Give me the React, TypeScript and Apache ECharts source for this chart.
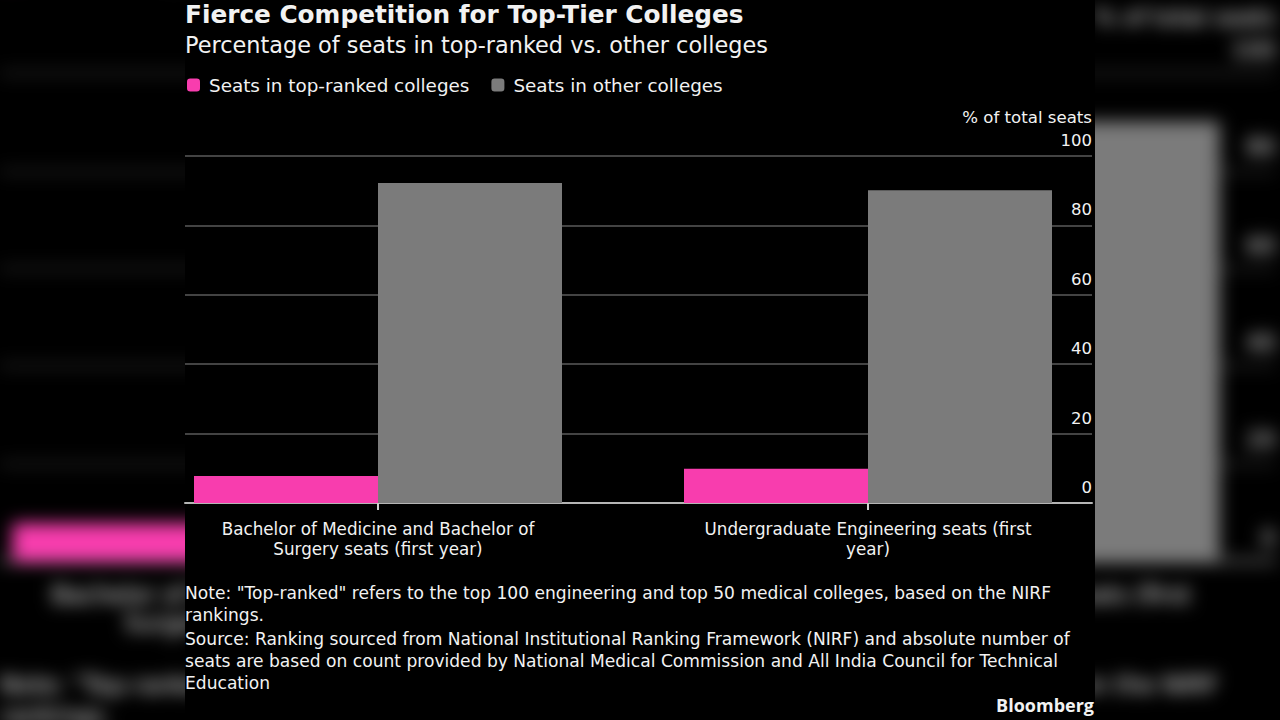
import React, { useEffect, useRef } from "react";
import * as echarts from "echarts";

// Chart content
const TITLE = "Fierce Competition for Top-Tier Colleges";
const SUBTITLE = "Percentage of seats in top-ranked vs. other colleges";
const CATEGORIES = [
  "Bachelor of Medicine and Bachelor of\nSurgery seats (first year)",
  "Undergraduate Engineering seats (first\nyear)",
];
const SERIES_NAMES = ["Seats in top-ranked colleges", "Seats in other colleges"];
const TOP_RANKED = [7.8, 9.9];
const OTHER = [92.2, 90.1];
const Y_TICKS = [0, 20, 40, 60, 80, 100];
const Y_UNIT = "% of total seats";
const NOTE =
  'Note: "Top-ranked" refers to the top 100 engineering and top 50 medical colleges, based on the NIRF\nrankings.';
const SOURCE =
  "Source: Ranking sourced from National Institutional Ranking Framework (NIRF) and absolute number of\nseats are based on count provided by National Medical Commission and All India Council for Technical\nEducation";
const BRAND = "Bloomberg";

const PINK = "#f83dae";
const GREY = "#7b7b7b";
const TEXT = "#f2f2f2";
const FONT = "'DejaVu Sans', Verdana, sans-serif";
const BRAND_FONT = "'Open Sans', sans-serif";

// The chart card occupies a 910px column centred in the 1280px page.
const PAGE_W = 1280;
const PAGE_H = 720;
const CARD_L = 185;
const CARD_R = 185;

function buildOption(): echarts.EChartsOption {
  const yMin = Y_TICKS[0];
  const yMax = Y_TICKS[Y_TICKS.length - 1];
  const yStep = Y_TICKS[1] - Y_TICKS[0];
  return {
    animation: false,
    backgroundColor: "transparent",
    textStyle: { fontFamily: FONT },
    title: {
      text: TITLE,
      subtext: SUBTITLE,
      left: CARD_L,
      top: 2,
      padding: 0,
      itemGap: 7,
      textStyle: { color: TEXT, fontSize: 24.75, fontWeight: "bold", fontFamily: FONT },
      subtextStyle: { color: TEXT, fontSize: 22.4, fontFamily: FONT },
    },
    legend: {
      left: CARD_L + 2,
      top: 76,
      padding: 0,
      icon: "roundRect",
      itemWidth: 13,
      itemHeight: 13,
      itemGap: 22,
      textStyle: { color: TEXT, fontSize: 18.35, fontFamily: FONT, padding: [0, 0, 0, 4] },
      data: SERIES_NAMES,
    },
    grid: [
      // frame: gridlines, baseline and value labels
      { left: CARD_L, right: CARD_R + 3, top: 156, bottom: 217 },
      // bars and category labels
      { left: 133, right: PAGE_W - 1113, top: 156, bottom: 217 },
    ],
    xAxis: [
      {
        type: "category",
        gridIndex: 0,
        data: CATEGORIES,
        axisLine: { show: true, lineStyle: { color: "#b5b5b5", width: 2 } },
        axisTick: { show: false },
        axisLabel: { show: false },
      },
      {
        type: "category",
        gridIndex: 1,
        data: CATEGORIES,
        axisLine: { show: false },
        axisTick: {
          show: true,
          alignWithLabel: true,
          length: 7,
          lineStyle: { color: "#d0d0d0", width: 2 },
        },
        axisLabel: {
          color: TEXT,
          fontSize: 16.75,
          lineHeight: 20,
          margin: 16,
          fontFamily: FONT,
        },
      },
    ],
    yAxis: [
      {
        type: "value",
        gridIndex: 0,
        position: "right",
        min: yMin,
        max: yMax,
        interval: yStep,
        axisLine: { show: false },
        axisTick: { show: false },
        splitLine: { show: true, lineStyle: { color: "#5a5a5a", width: 1.5 } },
        axisLabel: {
          inside: true,
          margin: 0,
          align: "right",
          verticalAlign: "bottom",
          padding: [0, 0, 7, 0],
          color: TEXT,
          fontSize: 16.5,
          fontFamily: FONT,
        },
      },
      {
        type: "value",
        gridIndex: 1,
        min: yMin,
        max: yMax,
        interval: yStep,
        show: false,
        splitLine: { show: false },
      },
    ],
    series: [
      {
        name: SERIES_NAMES[0],
        type: "bar",
        xAxisIndex: 1,
        yAxisIndex: 1,
        data: TOP_RANKED,
        barWidth: 184,
        barGap: "0%",
        itemStyle: { color: PINK },
      },
      {
        name: SERIES_NAMES[1],
        type: "bar",
        xAxisIndex: 1,
        yAxisIndex: 1,
        data: OTHER,
        barWidth: 184,
        barGap: "0%",
        itemStyle: { color: GREY },
      },
    ],
    graphic: [
      {
        type: "text",
        right: CARD_R + 3,
        top: 109,
        style: { text: Y_UNIT, fill: TEXT, font: `16.6px ${FONT}`, textAlign: "right" },
      },
      {
        type: "text",
        left: CARD_L,
        top: 582,
        style: { text: NOTE, fill: TEXT, font: `17.1px ${FONT}`, lineHeight: 22 },
      },
      {
        type: "text",
        left: CARD_L,
        top: 628,
        style: { text: SOURCE, fill: TEXT, font: `17.1px ${FONT}`, lineHeight: 22 },
      },
      {
        type: "text",
        right: CARD_R + 1,
        top: 696,
        style: { text: BRAND, fill: TEXT, font: `bold 18px ${BRAND_FONT}`, textAlign: "right" },
      },
    ],
  };
}

function ChartView({
  style,
  renderer,
}: {
  style: React.CSSProperties;
  renderer: "svg" | "canvas";
}) {
  const ref = useRef<HTMLDivElement>(null);
  useEffect(() => {
    if (!ref.current) return;
    const chart = echarts.init(ref.current, undefined, { renderer });
    chart.setOption(buildOption());
    return () => chart.dispose();
  }, [renderer]);
  return <div ref={ref} style={style} />;
}

export default function App() {
  const layer: React.CSSProperties = {
    position: "absolute",
    left: 0,
    top: 0,
    width: PAGE_W,
    height: PAGE_H,
  };
  return (
    <div
      style={{
        position: "fixed",
        left: 0,
        top: 0,
        width: PAGE_W,
        height: PAGE_H,
        background: "#000",
        overflow: "hidden",
      }}
    >
      {/* enlarged, blurred copy of the card filling the side margins */}
      <ChartView
        renderer="canvas"
        style={{
          ...layer,
          transform: `scale(${PAGE_W / (PAGE_W - CARD_L - CARD_R)})`,
          transformOrigin: `${PAGE_W / 2}px ${PAGE_H / 2}px`,
          filter: "blur(6px)",
        }}
      />
      {/* the card */}
      <div
        style={{
          position: "absolute",
          left: CARD_L,
          top: 0,
          width: PAGE_W - CARD_L - CARD_R,
          height: PAGE_H,
          background: "#000",
        }}
      />
      <ChartView renderer="svg" style={layer} />
    </div>
  );
}
